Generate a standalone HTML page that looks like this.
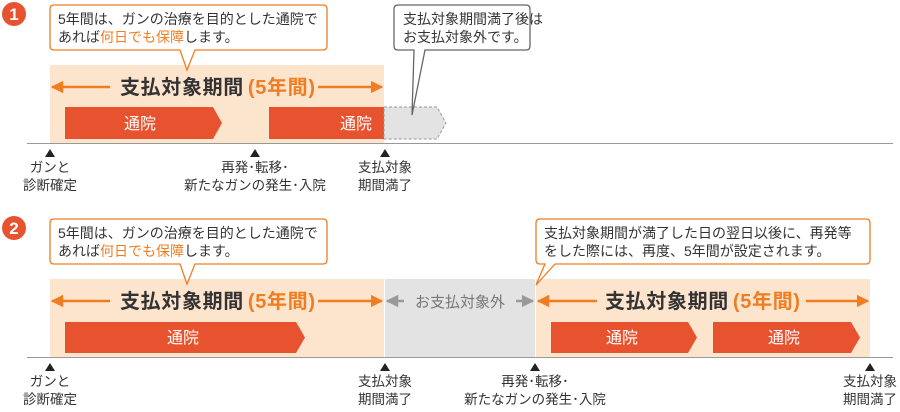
<!DOCTYPE html>
<html><head><meta charset="utf-8"><style>
html,body{margin:0;padding:0;background:#fff;}
svg{display:block;font-family:"Liberation Sans","Noto Sans CJK JP",sans-serif;}
</style></head><body>
<svg width="900" height="412" viewBox="0 0 900 412" xmlns="http://www.w3.org/2000/svg">
<defs>
<marker id="ao" viewBox="0 0 10 10" refX="9" refY="5" markerWidth="5" markerHeight="5" orient="auto-start-reverse"><path d="M0,0L10,5L0,10z" fill="#ef7d22"/></marker>
<marker id="ag" viewBox="0 0 10 10" refX="9" refY="5" markerWidth="5" markerHeight="5" orient="auto-start-reverse"><path d="M0,0L10,5L0,10z" fill="#999"/></marker>
</defs>

<!-- ===== Section 1 ===== -->
<circle cx="14" cy="14" r="12" fill="#e8532f"/>
<text x="14" y="20" font-size="17" font-weight="bold" fill="#fff" text-anchor="middle">1</text>

<rect x="50" y="65" width="334" height="78" fill="#fde4cd"/>
<line x1="52" y1="87" x2="110" y2="87" stroke="#ef7d22" stroke-width="2.5" marker-start="url(#ao)"/>
<line x1="318" y1="87" x2="382" y2="87" stroke="#ef7d22" stroke-width="2.5" marker-end="url(#ao)"/>
<text x="120" y="94" font-size="20" font-weight="bold" fill="#333" textLength="195" lengthAdjust="spacing">支払対象期間<tspan fill="#ef7d22" dx="4">(5年間)</tspan></text>

<polygon points="65,107 213,107 222,123 213,139 65,139" fill="#e8532f"/>
<text x="140" y="129" font-size="16" fill="#fff" text-anchor="middle">通院</text>
<rect x="269" y="107" width="115" height="32" fill="#e8532f"/>
<text x="356" y="129" font-size="16" fill="#fff" text-anchor="middle">通院</text>
<polygon points="384,107 437,107 446,123 437,139 384,139" fill="#e3e3e3" stroke="#999" stroke-dasharray="3,2"/>

<line x1="27" y1="143.5" x2="893" y2="143.5" stroke="#999" stroke-width="1"/>
<g fill="#222"><polygon points="50,149 45,157 55,157"/><polygon points="255,149 250,157 260,157"/><polygon points="385,149 380,157 390,157"/></g>
<g font-size="13.5" fill="#333" text-anchor="middle">
<text x="50" y="172">ガンと</text><text x="50" y="190">診断確定</text>
<text x="255" y="172">再発･転移･</text><text x="255" y="190">新たなガンの発生･入院</text>
<text x="385" y="172">支払対象</text><text x="385" y="190">期間満了</text>
</g>

<path d="M54,5 H323 Q327,5 327,9 V46 Q327,50 323,50 H195 L187,70 L180,50 H54 Q50,50 50,46 V9 Q50,5 54,5 Z" fill="#fff" stroke="#ef7d22" stroke-width="1.3"/>
<text x="58" y="24" font-size="14" fill="#333">5年間は、ガンの治療を目的とした通院で</text>
<text x="58" y="42" font-size="14" fill="#333">あれば<tspan fill="#ef7d22">何日でも保障</tspan>します。</text>

<path d="M398,5 H526 Q530,5 530,9 V46 Q530,50 526,50 H425 L412,115 L414,50 H398 Q394,50 394,46 V9 Q394,5 398,5 Z" fill="#fff" stroke="#666" stroke-width="1.3"/>
<text x="403" y="24" font-size="14" fill="#333">支払対象期間満了後は</text>
<text x="403" y="42" font-size="14" fill="#333">お支払対象外です。</text>

<!-- ===== Section 2 ===== -->
<circle cx="14" cy="228" r="12" fill="#e8532f"/>
<text x="14" y="234" font-size="17" font-weight="bold" fill="#fff" text-anchor="middle">2</text>

<rect x="50" y="279" width="334" height="78" fill="#fde4cd"/>
<rect x="385" y="279" width="150" height="78" fill="#e3e3e3"/>
<rect x="536" y="279" width="334" height="78" fill="#fde4cd"/>

<line x1="52" y1="301" x2="110" y2="301" stroke="#ef7d22" stroke-width="2.5" marker-start="url(#ao)"/>
<line x1="318" y1="301" x2="382" y2="301" stroke="#ef7d22" stroke-width="2.5" marker-end="url(#ao)"/>
<text x="120" y="308" font-size="20" font-weight="bold" fill="#333" textLength="195" lengthAdjust="spacing">支払対象期間<tspan fill="#ef7d22" dx="4">(5年間)</tspan></text>

<line x1="387" y1="301" x2="404" y2="301" stroke="#999" stroke-width="2.5" marker-start="url(#ag)"/>
<line x1="516" y1="301" x2="533" y2="301" stroke="#999" stroke-width="2.5" marker-end="url(#ag)"/>
<text x="460" y="307" font-size="15" text-anchor="middle" fill="#777">お支払対象外</text>

<line x1="538" y1="301" x2="597" y2="301" stroke="#ef7d22" stroke-width="2.5" marker-start="url(#ao)"/>
<line x1="806" y1="301" x2="868" y2="301" stroke="#ef7d22" stroke-width="2.5" marker-end="url(#ao)"/>
<text x="605" y="308" font-size="20" font-weight="bold" fill="#333" textLength="195" lengthAdjust="spacing">支払対象期間<tspan fill="#ef7d22" dx="4">(5年間)</tspan></text>

<polygon points="65,322 296,322 305,337.5 296,353 65,353" fill="#e8532f"/>
<text x="183" y="343" font-size="16" fill="#fff" text-anchor="middle">通院</text>
<polygon points="551,322 688,322 697,337.5 688,353 551,353" fill="#e8532f"/>
<text x="622" y="343" font-size="16" fill="#fff" text-anchor="middle">通院</text>
<polygon points="713,322 851,322 860,337.5 851,353 713,353" fill="#e8532f"/>
<text x="784" y="343" font-size="16" fill="#fff" text-anchor="middle">通院</text>

<line x1="27" y1="357.5" x2="893" y2="357.5" stroke="#999" stroke-width="1"/>
<g fill="#222"><polygon points="50,363 45,371 55,371"/><polygon points="385,363 380,371 390,371"/><polygon points="535,363 530,371 540,371"/><polygon points="870,363 865,371 875,371"/></g>
<g font-size="13.5" fill="#333" text-anchor="middle">
<text x="50" y="386">ガンと</text><text x="50" y="404">診断確定</text>
<text x="385" y="386">支払対象</text><text x="385" y="404">期間満了</text>
<text x="535" y="386">再発･転移･</text><text x="535" y="404">新たなガンの発生･入院</text>
<text x="870" y="386">支払対象</text><text x="870" y="404">期間満了</text>
</g>

<path d="M54,219 H323 Q327,219 327,223 V260 Q327,264 323,264 H195 L187,284 L180,264 H54 Q50,264 50,260 V223 Q50,219 54,219 Z" fill="#fff" stroke="#ef7d22" stroke-width="1.3"/>
<text x="58" y="238" font-size="14" fill="#333">5年間は、ガンの治療を目的とした通院で</text>
<text x="58" y="256" font-size="14" fill="#333">あれば<tspan fill="#ef7d22">何日でも保障</tspan>します。</text>

<path d="M540,219 H866 Q870,219 870,223 V260 Q870,264 866,264 H555 L536,285 L545,264 H540 Q536,264 536,260 V223 Q536,219 540,219 Z" fill="#fff" stroke="#ef7d22" stroke-width="1.3"/>
<text x="544" y="238" font-size="14" fill="#333">支払対象期間が満了した日の翌日以後に、再発等</text>
<text x="544" y="256" font-size="14" fill="#333">をした際には、再度、5年間が設定されます。</text>
</svg>
</body></html>
